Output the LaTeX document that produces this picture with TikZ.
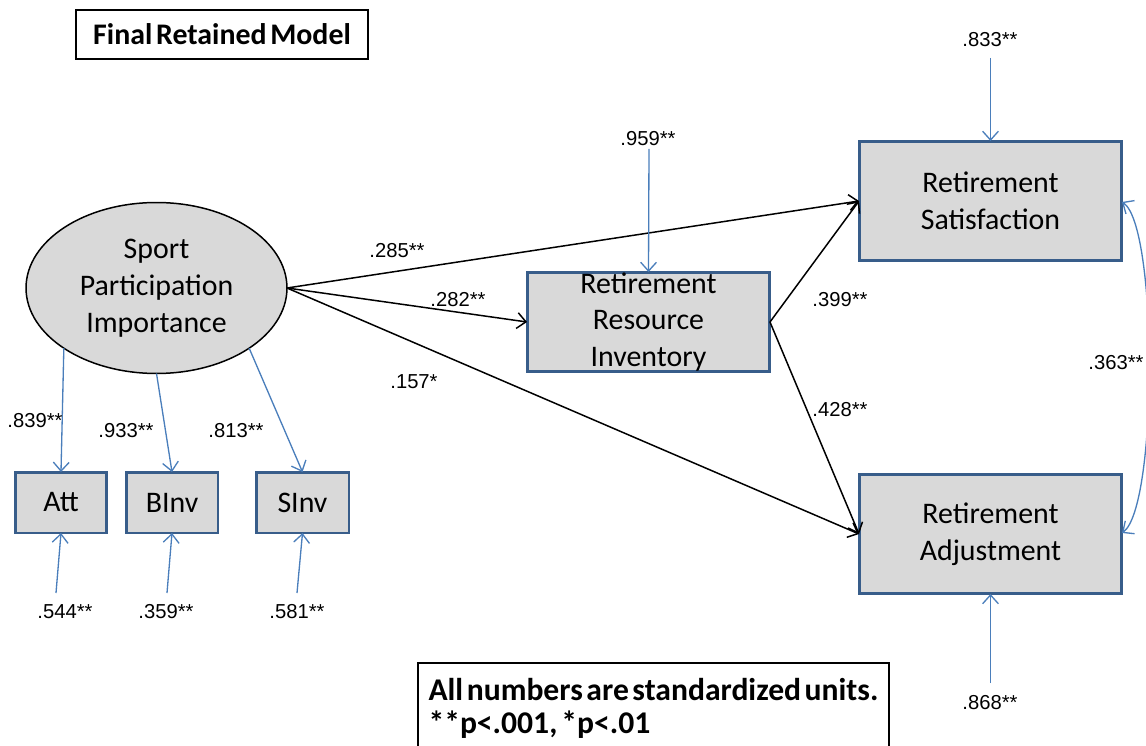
\documentclass[tikz,border=0pt]{standalone}
\usepackage{fontspec}
\setmainfont{Carlito}
\newfontfamily\arial{Liberation Sans}
\newfontfamily\tightbold[WordSpace=0.55]{Carlito Bold}
\usetikzlibrary{arrows.meta,shapes.geometric}
\definecolor{boxfill}{HTML}{D9D9D9}
\definecolor{boxline}{HTML}{385D8A}
\definecolor{pathblue}{HTML}{4A7EBB}
\tikzset{
  varbox/.style={draw=boxline, line width=1.7pt, fill=boxfill, rectangle,
    inner sep=0pt, outer sep=0pt, align=center,
    font=\fontsize{17pt}{21pt}\selectfont},
  latent/.style={draw=black, line width=0.85pt, fill=boxfill, ellipse,
    inner sep=0pt, outer sep=0pt, align=center,
    minimum width=5.22cm, minimum height=3.42cm,
    font=\fontsize{17pt}{21pt}\selectfont},
  coef/.style={font=\arial\fontsize{11.5pt}{13pt}\selectfont, inner sep=0pt},
  tip/.style={-{Straight Barb[length=5pt,width=9pt]}},
  regpath/.style={tip, draw=black, line width=0.85pt},
  loadpath/.style={tip, draw=pathblue, line width=0.75pt},
  framebox/.style={draw=black, line width=1.1pt, rectangle, inner sep=0pt,
    outer sep=0pt, font=\tightbold\fontsize{17pt}{19pt}\selectfont}
}
\begin{document}
\begin{tikzpicture}[x=0.02cm, y=-0.02cm]
\useasboundingbox (0,0) rectangle (1146,746);

% title
\node[framebox, minimum width=5.84cm, minimum height=0.98cm] (title) at (222,34.5) {Final Retained Model};

% latent factor and indicators
\node[latent] (spi) at (156.5,288) {Sport\\Participation\\Importance};
\node[varbox, minimum width=1.84cm, minimum height=1.22cm] (att) at (61,502.5) {Att};
\node[varbox, minimum width=1.84cm, minimum height=1.22cm] (binv) at (172,502.5) {BInv};
\node[varbox, minimum width=1.86cm, minimum height=1.22cm] (sinv) at (302.5,502.5) {SInv};

% outcome variables
\node[varbox, minimum width=4.86cm, minimum height=2.0cm] (rri) at (648.5,322) {Retirement\\Resource\\Inventory};
\node[varbox, minimum width=5.26cm, minimum height=2.4cm] (rs) at (990.5,201) {Retirement\\Satisfaction};
\node[varbox, minimum width=5.26cm, minimum height=2.4cm] (ra) at (990.5,534) {Retirement\\Adjustment};

% note
\node[framebox, anchor=north west, minimum width=9.42cm, minimum height=1.82cm,
      align=flush left, text width=9.0cm, inner xsep=0.21cm,
      font=\tightbold\fontsize{18pt}{19pt}\selectfont] (note) at (418,663)
  {All numbers are standardized units.\\{}**p<.001, *p<.01};

% structural paths
\draw[regpath] (spi.east) -- (rs.west);
\draw[regpath] (spi.east) -- (rri.west);
\draw[regpath] (spi.east) -- (ra.west);
\draw[regpath] (rri.east) -- (rs.west);
\draw[regpath] (rri.east) -- (ra.west);

% loadings
\draw[loadpath] (spi.213) -- (att.north);
\draw[loadpath] (spi.270) -- (binv.north);
\draw[loadpath] (spi.327) -- (sinv.north);

% residual terms
\coordinate (eatt) at (56,593);
\coordinate (ebinv) at (167,593);
\coordinate (esinv) at (297,593);
\coordinate (erri) at (649,149);
\coordinate (ers) at (990.5,58);
\coordinate (era) at (990.5,683);
\draw[loadpath] (eatt) -- (att.south);
\draw[loadpath] (ebinv) -- (binv.south);
\draw[loadpath] (esinv) -- (sinv.south);
\draw[loadpath] (erri) -- (rri.north);
\draw[loadpath] (ers) -- (rs.north);
\draw[loadpath] (era) -- (ra.south);

% residual covariance
\draw[loadpath, {Straight Barb[length=5pt,width=9pt]}-{Straight Barb[length=5pt,width=9pt]}]
  ([yshift=-0.02cm]rs.east) .. controls (1158,225) and (1158,507) .. ([yshift=0.02cm]ra.east);

% coefficients
\node[coef] (c839) at (35,421) {.839**};
\node[coef] (c933) at (126,431) {.933**};
\node[coef] (c813) at (236,431) {.813**};
\node[coef] (c544) at (65,612) {.544**};
\node[coef] (c359) at (166,612) {.359**};
\node[coef] (c581) at (297,612) {.581**};
\node[coef] (c285) at (397,251) {.285**};
\node[coef] (c282) at (458,300) {.282**};
\node[coef] (c157) at (414,382) {.157*};
\node[coef] (c959) at (648,139) {.959**};
\node[coef] (c399) at (840,300) {.399**};
\node[coef] (c428) at (840,410) {.428**};
\node[coef] (c833) at (990,40) {.833**};
\node[coef] (c868) at (990,703) {.868**};
\node[coef] (c363) at (1116,363) {.363**};
\end{tikzpicture}
\end{document}
